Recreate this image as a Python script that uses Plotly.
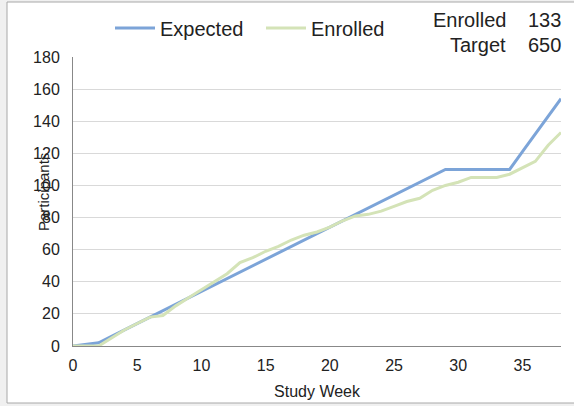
import plotly.graph_objects as go

weeks = list(range(0, 39))
expected = [0, 1, 2, 6, 10, 14, 18, 22, 26, 30, 34, 38, 42, 46, 50, 54, 58, 62, 66, 70,
            74, 78, 82, 86, 90, 94, 98, 102, 106, 110, 110, 110, 110, 110, 110, 121, 132, 143, 154]
enrolled = [0, 0, 0, 5, 10, 14, 18, 19, 25, 30, 35, 40, 45, 52, 55, 59, 62, 66, 69, 71,
            74, 78, 81, 82, 84, 87, 90, 92, 97, 100, 102, 105, 105, 105, 107, 111, 115, 125, 133]
summary_labels = ["Enrolled", "Target"]
summary_values = [133, 650]

FONT = "Liberation Sans, Arial, sans-serif"
L, R, T, B = 73, 13, 57, 60
W, H = 574, 406
PW, PH = W - L - R, H - T - B

def px(x):
    return (x - L) / PW

def py(y):
    return (H - B - y) / PH

fig = go.Figure()
fig.add_trace(go.Scatter(x=weeks, y=expected, mode="lines", name="Expected",
                         line=dict(color="#7ca4d8", width=3)))
fig.add_trace(go.Scatter(x=weeks, y=enrolled, mode="lines", name="Enrolled",
                         line=dict(color="#d4e3b7", width=3)))

fig.add_shape(type="rect", xref="paper", yref="paper",
              x0=px(7), x1=px(590), y0=py(403), y1=py(2),
              line=dict(color="#a8a8a8", width=1), fillcolor="white", layer="below")

for i, (lab, val) in enumerate(zip(summary_labels, summary_values)):
    yy = py(20 + 25 * i)
    fig.add_annotation(x=px(508), y=yy, xref="paper", yref="paper", text=lab,
                       showarrow=False, xanchor="right", yanchor="middle",
                       font=dict(family=FONT, size=20, color="#222"))
    fig.add_annotation(x=px(563), y=yy, xref="paper", yref="paper", text=str(val),
                       showarrow=False, xanchor="right", yanchor="middle",
                       font=dict(family=FONT, size=20, color="#222"))

fig.add_annotation(x=px(43), y=py(192), xref="paper", yref="paper", text="Participants",
                   showarrow=False, textangle=-90, xanchor="center", yanchor="middle",
                   font=dict(family=FONT, size=15, color="#222"))

fig.update_layout(
    width=W, height=H,
    margin=dict(l=L, r=R, t=T, b=B, pad=0, autoexpand=False),
    paper_bgcolor="#f0f0f0", plot_bgcolor="rgba(0,0,0,0)",
    font=dict(family=FONT, size=16, color="#222"),
    showlegend=True,
    legend=dict(orientation="h", x=px(110), y=py(28), xanchor="left", yanchor="middle",
                bgcolor="rgba(0,0,0,0)", font=dict(family=FONT, size=20, color="#222"),
                itemwidth=40, entrywidth=96, entrywidthmode="pixels", tracegroupgap=0),
    xaxis=dict(range=[0, 38], tickmode="array", tickvals=[0, 5, 10, 15, 20, 25, 30, 35],
               showgrid=False, zeroline=False, showline=True, linecolor="#888", linewidth=1,
               ticks="", tickfont=dict(family=FONT, size=16, color="#222"), ticklabelstandoff=5,
               title=dict(text="Study Week", font=dict(family=FONT, size=16, color="#222"), standoff=12),
               automargin=False, fixedrange=True),
    yaxis=dict(range=[0, 180], tickmode="array", tickvals=list(range(0, 181, 20)),
               showgrid=True, gridcolor="#d9d9d9", gridwidth=1, zeroline=False,
               showline=True, linecolor="#888", linewidth=1, ticks="",
               tickfont=dict(family=FONT, size=16, color="#222"), ticklabelstandoff=9,
               automargin=False, fixedrange=True),
)

fig.write_html("out.html", config={"displayModeBar": False},
               post_script="document.body.style.margin='0';document.body.style.padding='0';")
